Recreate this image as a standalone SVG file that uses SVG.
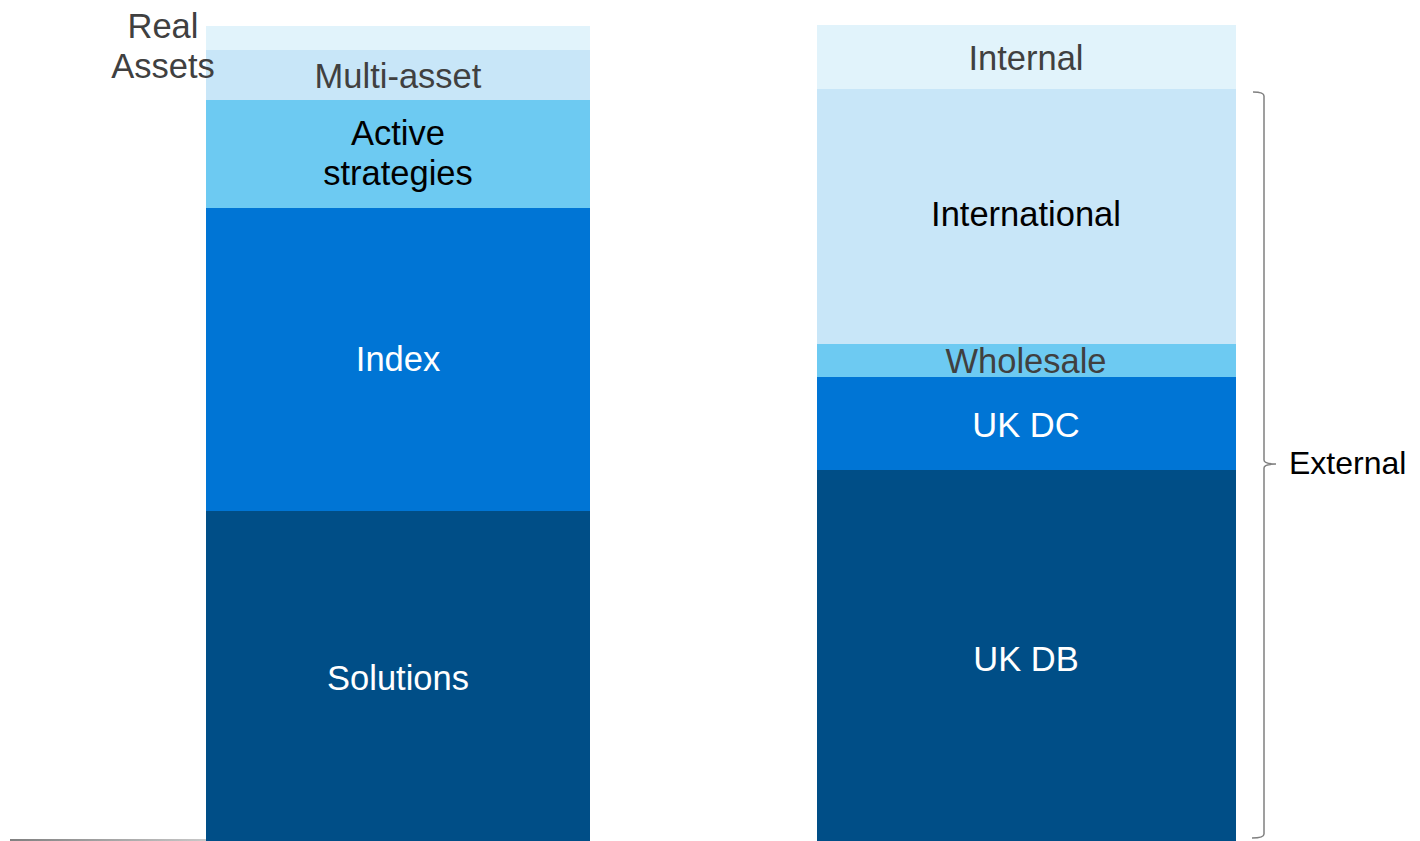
<svg xmlns="http://www.w3.org/2000/svg" width="1420" height="841" viewBox="0 0 1420 841">
<defs>
<style>
text{font-family:"Liberation Sans",Arial,sans-serif;font-size:34.5px;text-anchor:middle}
.g{fill:#404040}.k{fill:#000}.w{fill:#fff}
</style>
<linearGradient id="base" x1="0" x2="1" y1="0" y2="0"><stop offset="0" stop-color="#808080"/><stop offset="1" stop-color="#c8c8c8"/></linearGradient>
</defs>
<rect width="1420" height="841" fill="#fff"/>
<g id="baseline"><rect x="10" y="839" width="196" height="2" fill="url(#base)"/></g>
<g id="left-bar">
<g id="real-assets-bar"><rect x="206" y="26" width="384" height="24" fill="#E1F3FB"/></g>
<g id="multi-asset"><rect x="206" y="50" width="384" height="50" fill="#C8E6F8"/><text class="g" x="398" y="88">Multi-asset</text></g>
<g id="active"><rect x="206" y="100" width="384" height="108" fill="#6DCAF2"/><text class="k" x="398" y="145">Active</text><text class="k" x="398" y="185">strategies</text></g>
<g id="index"><rect x="206" y="208" width="384" height="303" fill="#0075D5"/><text class="w" x="398" y="371">Index</text></g>
<g id="solutions"><rect x="206" y="511" width="384" height="330" fill="#004E87"/><text class="w" x="398" y="690">Solutions</text></g>
<g id="real-assets"><text class="g" x="163" y="38">Real</text><text class="g" x="163" y="78">Assets</text></g>
</g>
<g id="right-bar">
<g id="internal"><rect x="817" y="25" width="419" height="64" fill="#E1F3FB"/><text class="g" x="1026" y="70">Internal</text></g>
<g id="international"><rect x="817" y="89" width="419" height="255" fill="#C8E6F8"/><text class="k" x="1026" y="226">International</text></g>
<g id="wholesale"><rect x="817" y="344" width="419" height="33" fill="#6DCAF2"/><text class="g" x="1026" y="373">Wholesale</text></g>
<g id="uk-dc"><rect x="817" y="377" width="419" height="93" fill="#0075D5"/><text class="w" x="1026" y="437">UK DC</text></g>
<g id="uk-db"><rect x="817" y="470" width="419" height="371" fill="#004E87"/><text class="w" x="1026" y="671">UK DB</text></g>
</g>
<g id="connectors">
<path d="M1253,92 Q1264,92 1264,96 L1264,460 Q1264,464 1276,464 Q1264,464 1264,468 L1264,834 Q1264,838 1252,838" fill="none" stroke="#808080" stroke-width="1.5"/>
</g>
<g id="external"><text class="k" x="1289" y="474" style="text-anchor:start;font-size:32px">External</text></g>
</svg>
